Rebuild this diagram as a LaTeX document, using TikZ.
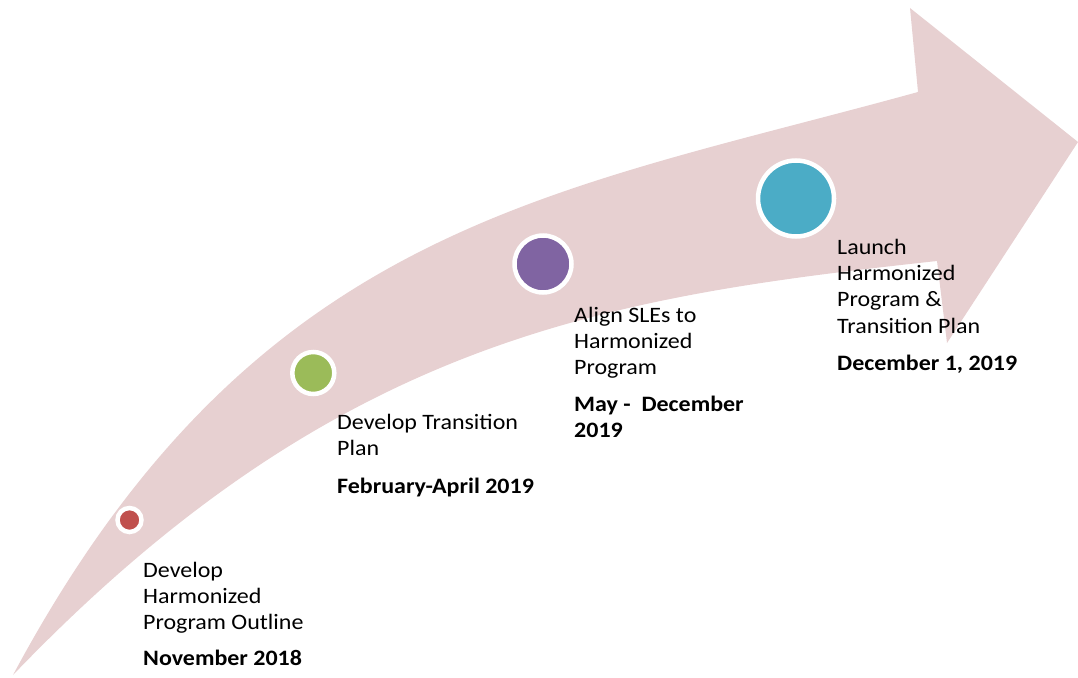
\documentclass[tikz,border=0pt]{standalone}
\usepackage{fontspec}
\setmainfont{Carlito}[FakeStretch=1.09]
\definecolor{arrowpink}{RGB}{231,208,209}
\definecolor{dotred}{RGB}{192,80,77}
\definecolor{dotgreen}{RGB}{155,187,89}
\definecolor{dotpurple}{RGB}{128,100,162}
\definecolor{dotblue}{RGB}{75,172,198}
\begin{document}
\begin{tikzpicture}[x=1pt,y=-1pt,
  milestone/.style={circle,draw=white,line width=4.5pt,inner sep=0pt},
  txt/.style={anchor=base west,inner sep=0pt,font=\fontsize{22}{25}\selectfont},
  datetxt/.style={txt,font=\fontsize{22}{25}\selectfont\bfseries}]
\useasboundingbox (0,0) rectangle (1078,677);
% curved arrow
\fill[arrowpink] (13,675) .. controls (254,225) and (548,194) .. (918,92)
  -- (910,8) -- (1078,142) -- (947,343) -- (937,261)
  .. controls (607,297) and (337,337.5) .. cycle;
% milestones
\node[milestone,fill=dotred,minimum size=24pt] (m1) at (129.5,520) {};
\node[milestone,fill=dotgreen,minimum size=42pt] (m2) at (313.3,373) {};
\node[milestone,fill=dotpurple,minimum size=57pt] (m3) at (543,264) {};
\node[milestone,fill=dotblue,minimum size=76pt] (m4) at (796,198.5) {};
% texts 1
\node[txt] (t1a) at (143,577) {Develop};
\node[txt] (t1b) at (143,603) {Harmonized};
\node[txt] (t1c) at (143,629) {Program Outline};
\node[datetxt] (d1) at (143,665) {November 2018};
% texts 2
\node[txt] (t2a) at (337,429) {Develop Transition};
\node[txt] (t2b) at (337,455) {Plan};
\node[datetxt] (d2) at (337,493) {February-April 2019};
% texts 3
\node[txt] (t3a) at (574,322) {Align SLEs to};
\node[txt] (t3b) at (574,348) {Harmonized};
\node[txt] (t3c) at (574,374) {Program};
\node[datetxt] (d3a) at (574,411) {May -\ \ December};
\node[datetxt] (d3b) at (574,437) {2019};
% texts 4
\node[txt] (t4a) at (837,254) {Launch};
\node[txt] (t4b) at (837,280) {Harmonized};
\node[txt] (t4c) at (837,306) {Program \&};
\node[txt] (t4d) at (837,333) {Transition Plan};
\node[datetxt] (d4) at (837,370) {December 1, 2019};
\end{tikzpicture}
\end{document}
